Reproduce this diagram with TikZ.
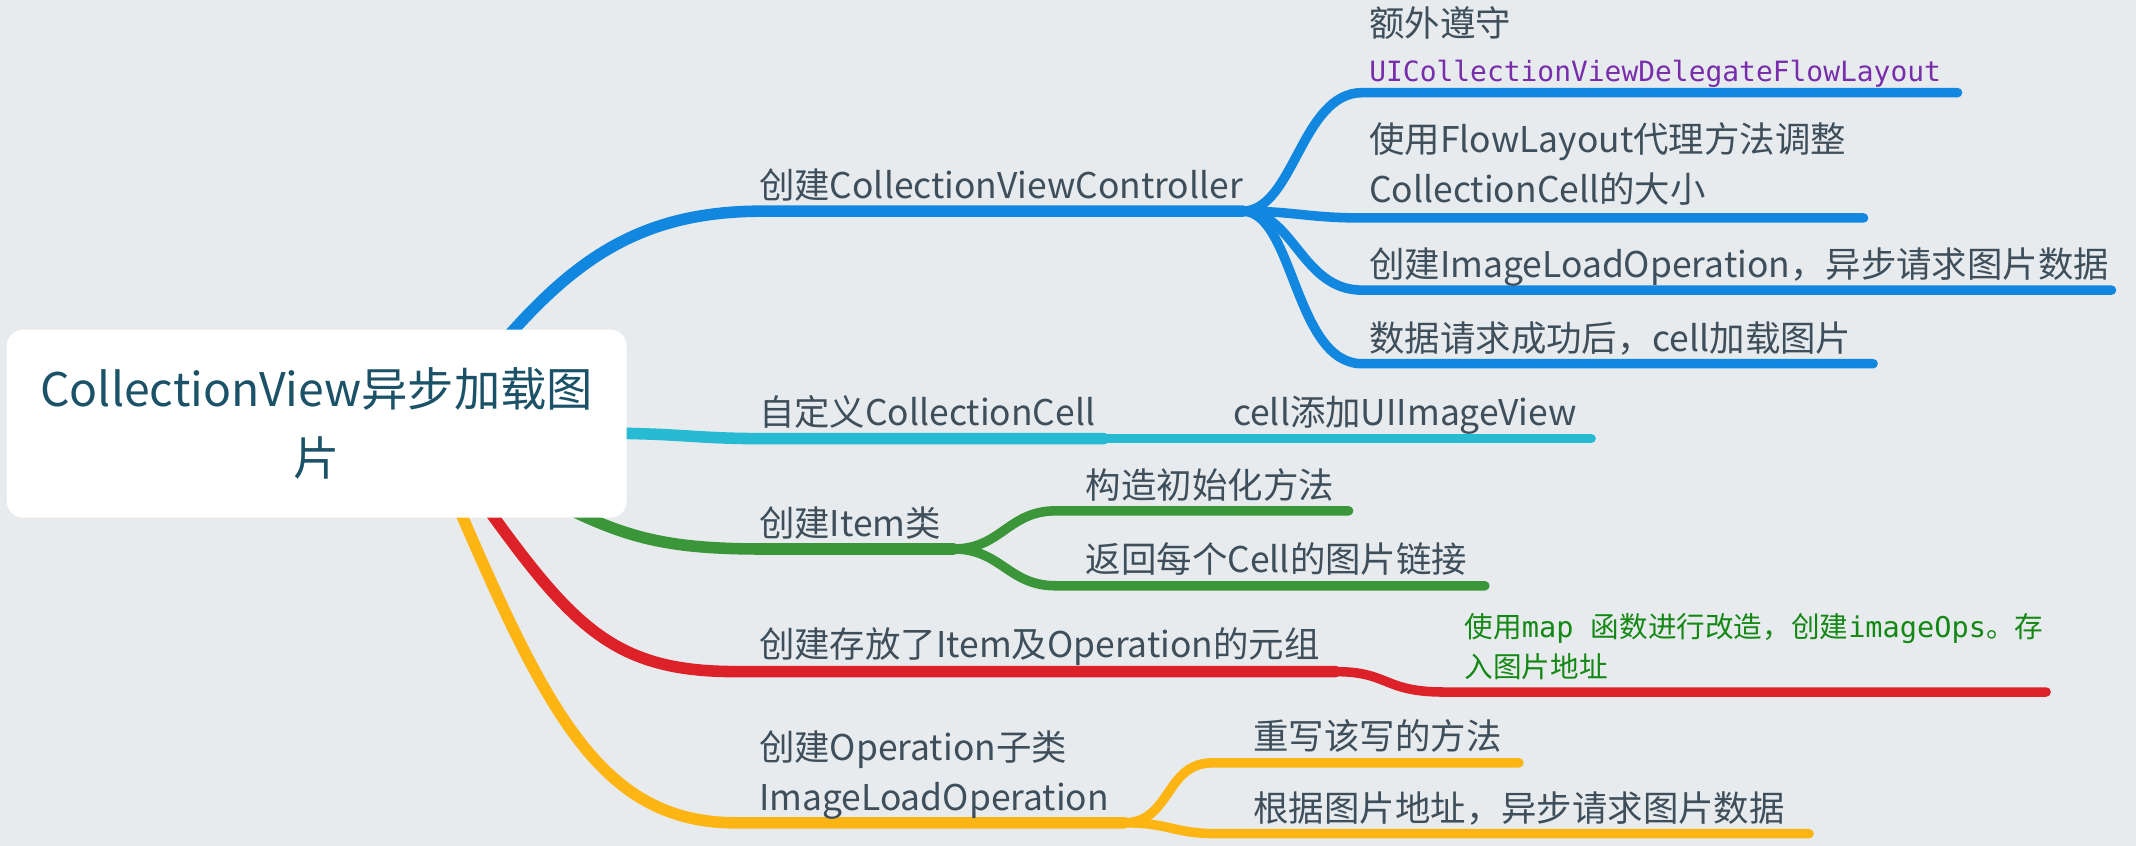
\documentclass[tikz,border=0pt]{standalone}
\usepackage{fontspec}
\setmainfont{Noto Sans CJK SC}
\newfontfamily\mono{DejaVu Sans Mono}
\usepackage{tikz}
\usepackage{xcolor}

\definecolor{fondo}{RGB}{231,235,238}
\definecolor{azul}{RGB}{18,135,223}
\definecolor{cian}{RGB}{38,187,211}
\definecolor{verde}{RGB}{58,150,56}
\definecolor{rojo}{RGB}{221,33,40}
\definecolor{amarillo}{RGB}{253,181,20}
\definecolor{texto}{RGB}{62,78,90}
\definecolor{textoraiz}{RGB}{27,82,103}
\definecolor{morado}{RGB}{120,45,170}
\definecolor{verdecodigo}{RGB}{20,136,20}

\tikzset{
  rama/.style={line width=8.5pt, line cap=round},
  subrama/.style={line width=7pt, line cap=round},
  tema/.style={anchor=base west, inner sep=0pt, align=left, text=texto, font=\fontsize{26}{37}\selectfont},
  raizbox/.style={fill=white, rounded corners=12pt, minimum width=455pt, minimum height=138pt, align=center, text=textoraiz, font=\fontsize{34}{51}\selectfont},
}

\begin{document}
\begin{tikzpicture}[x=1pt, y=-1pt]
  % Fondo
  \fill[fondo] (0,0) rectangle (1568,621);
  \useasboundingbox (0,0) rectangle (1568,621);

  % Puntos de salida bajo el tema central
  \coordinate (centro) at (232.5,311);
  \coordinate (sAzul) at (360,262);
  \coordinate (sCian) at (440,318);
  \coordinate (sVerde) at (410,370);
  \coordinate (sRojo) at (352,365);
  \coordinate (sAmarillo) at (332,362);

  % Rama azul
  \coordinate (az0) at (560,155);
  \coordinate (azF) at (912,155);
  \coordinate (az1) at (1000,68);   \coordinate (az1F) at (1437,68);
  \coordinate (az2) at (1000,160);  \coordinate (az2F) at (1368,160);
  \coordinate (az3) at (1000,213);  \coordinate (az3F) at (1550,213);
  \coordinate (az4) at (1000,267);  \coordinate (az4F) at (1375,267);
  \draw[rama, azul] (sAzul) .. controls (420,190) and (470,155) .. (az0) -- (azF);
  \draw[subrama, azul] (azF) .. controls (950,155) and (955,68) .. (az1) -- (az1F);
  \draw[subrama, azul] (azF) .. controls (950,155) and (960,160) .. (az2) -- (az2F);
  \draw[subrama, azul] (azF) .. controls (950,155) and (955,213) .. (az3) -- (az3F);
  \draw[subrama, azul] (azF) .. controls (950,155) and (950,267) .. (az4) -- (az4F);
  \node[tema] (controlador) at (557,146) {创建CollectionViewController};
  \node[tema] (protocolo) at (1005,60) {额外遵守\\[-4pt]{\mono\fontsize{20.5}{24}\selectfont\color{morado}UICollectionViewDelegateFlowLayout}};
  \node[tema] (tamano) at (1005,149) {使用FlowLayout代理方法调整\\CollectionCell的大小};
  \node[tema] (operacion) at (1005,204) {创建ImageLoadOperation，异步请求图片数据};
  \node[tema] (carga) at (1005,258) {数据请求成功后，cell加载图片};

  % Rama cian
  \coordinate (ci0) at (560,322);
  \coordinate (ciF) at (810,322);
  \coordinate (ci1F) at (1168,322);
  \draw[rama, cian] (sCian) .. controls (500,318) and (510,322) .. (ci0) -- (ciF);
  \draw[subrama, cian] (ciF) -- (ci1F);
  \node[tema] (celda) at (557,312) {自定义CollectionCell};
  \node[tema] (imagen) at (905,312) {cell添加UIImageView};

  % Rama verde
  \coordinate (ve0) at (560,403);
  \coordinate (veF) at (700,403);
  \coordinate (ve1) at (775,375);  \coordinate (ve1F) at (990,375);
  \coordinate (ve2) at (775,430);  \coordinate (ve2F) at (1090,430);
  \draw[rama, verde] (sVerde) .. controls (460,395) and (490,403) .. (ve0) -- (veF);
  \draw[subrama, verde] (veF) .. controls (735,403) and (740,375) .. (ve1) -- (ve1F);
  \draw[subrama, verde] (veF) .. controls (735,403) and (740,430) .. (ve2) -- (ve2F);
  \node[tema] (item) at (557,394) {创建Item类};
  \node[tema] (inicio) at (797,366) {构造初始化方法};
  \node[tema] (enlace) at (797,420) {返回每个Cell的图片链接};

  % Rama roja
  \coordinate (ro0) at (540,493);
  \coordinate (roF) at (980,493);
  \coordinate (ro1) at (1060,508);  \coordinate (ro1F) at (1502,508);
  \draw[rama, rojo] (sRojo) .. controls (420,460) and (450,493) .. (ro0) -- (roF);
  \draw[subrama, rojo] (roF) .. controls (1020,493) and (1015,508) .. (ro1) -- (ro1F);
  \node[tema] (tupla) at (557,483) {创建存放了Item及Operation的元组};
  \node[tema, text=verdecodigo, font=\fontsize{21}{29}\selectfont] (mapa) at (1075,497) {使用{\mono map }函数进行改造，创建{\mono imageOps}。存\\入图片地址};

  % Rama amarilla
  \coordinate (am0) at (540,604);
  \coordinate (amF) at (825,604);
  \coordinate (am1) at (890,560);  \coordinate (am1F) at (1115,560);
  \coordinate (am2) at (895,612);  \coordinate (am2F) at (1328,612);
  \draw[rama, amarillo] (sAmarillo) .. controls (400,520) and (440,604) .. (am0) -- (amF);
  \draw[subrama, amarillo] (amF) .. controls (860,604) and (855,560) .. (am1) -- (am1F);
  \draw[subrama, amarillo] (amF) .. controls (860,604) and (860,612) .. (am2) -- (am2F);
  \node[tema] (subclase) at (557,595) {创建Operation子类\\ImageLoadOperation};
  \node[tema] (reescribir) at (920,550) {重写该写的方法};
  \node[tema] (solicitud) at (920,603) {根据图片地址，异步请求图片数据};

  % Tema central
  \node[raizbox] (raiz) at (centro) {CollectionView异步加载图\\片};
\end{tikzpicture}
\end{document}
